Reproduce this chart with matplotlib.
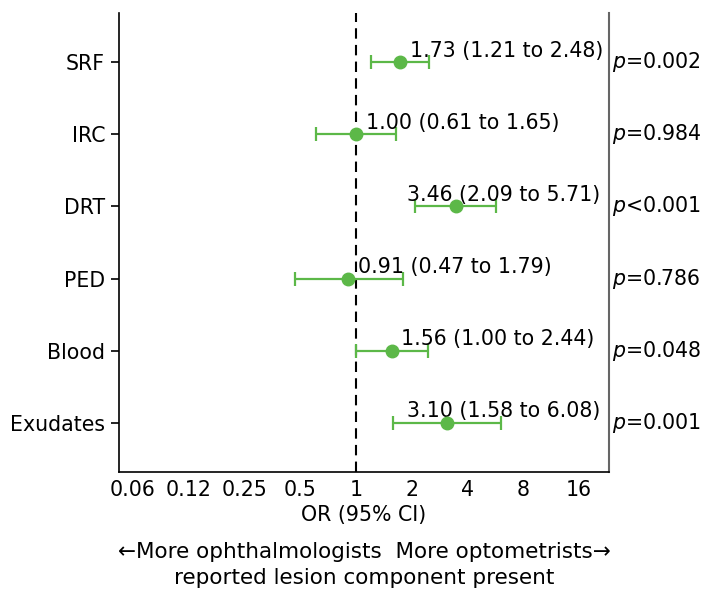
import numpy as np
import matplotlib
matplotlib.use("Agg")
import matplotlib.pyplot as plt
from matplotlib.transforms import offset_copy

plt.rcParams['font.family'] = ['DejaVu Sans']
plt.rcParams['mathtext.fontset'] = 'dejavusans'

# data
labels = ["SRF", "IRC", "DRT", "PED", "Blood", "Exudates"]
or_vals = [1.73, 1.00, 3.46, 0.91, 1.56, 3.10]
ci_low = [1.21, 0.61, 2.09, 0.47, 1.00, 1.58]
ci_high = [2.48, 1.65, 5.71, 1.79, 2.44, 6.08]
p_sign = ["=", "=", "<", "=", "=", "="]
p_vals = ["0.002", "0.984", "0.001", "0.786", "0.048", "0.001"]
xticks = [0.0625, 0.125, 0.25, 0.5, 1, 2, 4, 8, 16]
xtick_labels = ["0.06", "0.12", "0.25", "0.5", "1", "2", "4", "8", "16"]

green = "#5cb848"
fs = 14.8

fig = plt.figure(figsize=(7.08, 5.9), dpi=100)
ax = fig.add_axes([119/708, 118/590, 490/708, 459/590])

y = np.arange(len(labels))
ax.axvline(1, color="black", linestyle=(0, (5, 3)), linewidth=1.5, zorder=1)

err = [np.array(or_vals) - np.array(ci_low), np.array(ci_high) - np.array(or_vals)]
ax.errorbar(or_vals, y, xerr=err, fmt="o", color=green, ecolor=green,
            markersize=9, elinewidth=1.6, capsize=5, capthick=1.6, zorder=3)

ax.set_xscale("log", base=2)
ax.set_xlim(2 ** -4.25, 2 ** 4.54)
ax.set_xticks(xticks)
ax.set_xticklabels(xtick_labels, fontsize=fs)
ax.xaxis.set_minor_locator(matplotlib.ticker.NullLocator())
ax.tick_params(axis="x", length=0, pad=6)
ax.set_xlabel("OR (95% CI)", fontsize=fs, labelpad=3)

ax.set_ylim(len(labels) - 1 + 0.68, -0.68)
ax.set_yticks(y)
ax.set_yticklabels(labels, fontsize=fs)
ax.tick_params(axis="y", length=6, width=1.2, pad=4)

ax.spines["top"].set_visible(False)
ax.spines["left"].set_linewidth(1.2)
ax.spines["bottom"].set_linewidth(1.2)
ax.spines["right"].set_color("#666666")
ax.spines["right"].set_linewidth(1.5)

# OR text above each point; right-aligned if it would run past the axes
fig.canvas.draw()
renderer = fig.canvas.get_renderer()
ax_right = ax.get_window_extent().x1
for i in range(len(labels)):
    s = f"{or_vals[i]:.2f} ({ci_low[i]:.2f} to {ci_high[i]:.2f})"
    tr = offset_copy(ax.transData, fig=fig, x=7, y=4, units="points")
    t = ax.text(or_vals[i], y[i], s, fontsize=fs, ha="left", va="baseline", transform=tr)
    if t.get_window_extent(renderer).x1 > ax_right - 4:
        t.set_x(1)
        t.set_ha("right")
        t.set_transform(offset_copy(ax.get_yaxis_transform(), fig=fig, x=-6, y=4, units="points"))

# p-values outside the right spine
for i in range(len(labels)):
    ax.text(1.006, y[i], "$p$" + p_sign[i] + p_vals[i], fontsize=fs,
            ha="left", va="center", transform=ax.get_yaxis_transform())

cx = (119 + 609) / 2 / 708
fig.text(cx, 38/590, "\u2190More ophthalmologists  More optometrists\u2192",
         fontsize=15.5, ha="center", va="center")
fig.text(cx, 12/590, "reported lesion component present",
         fontsize=15.5, ha="center", va="center")

fig.savefig("out.png", dpi=100)
